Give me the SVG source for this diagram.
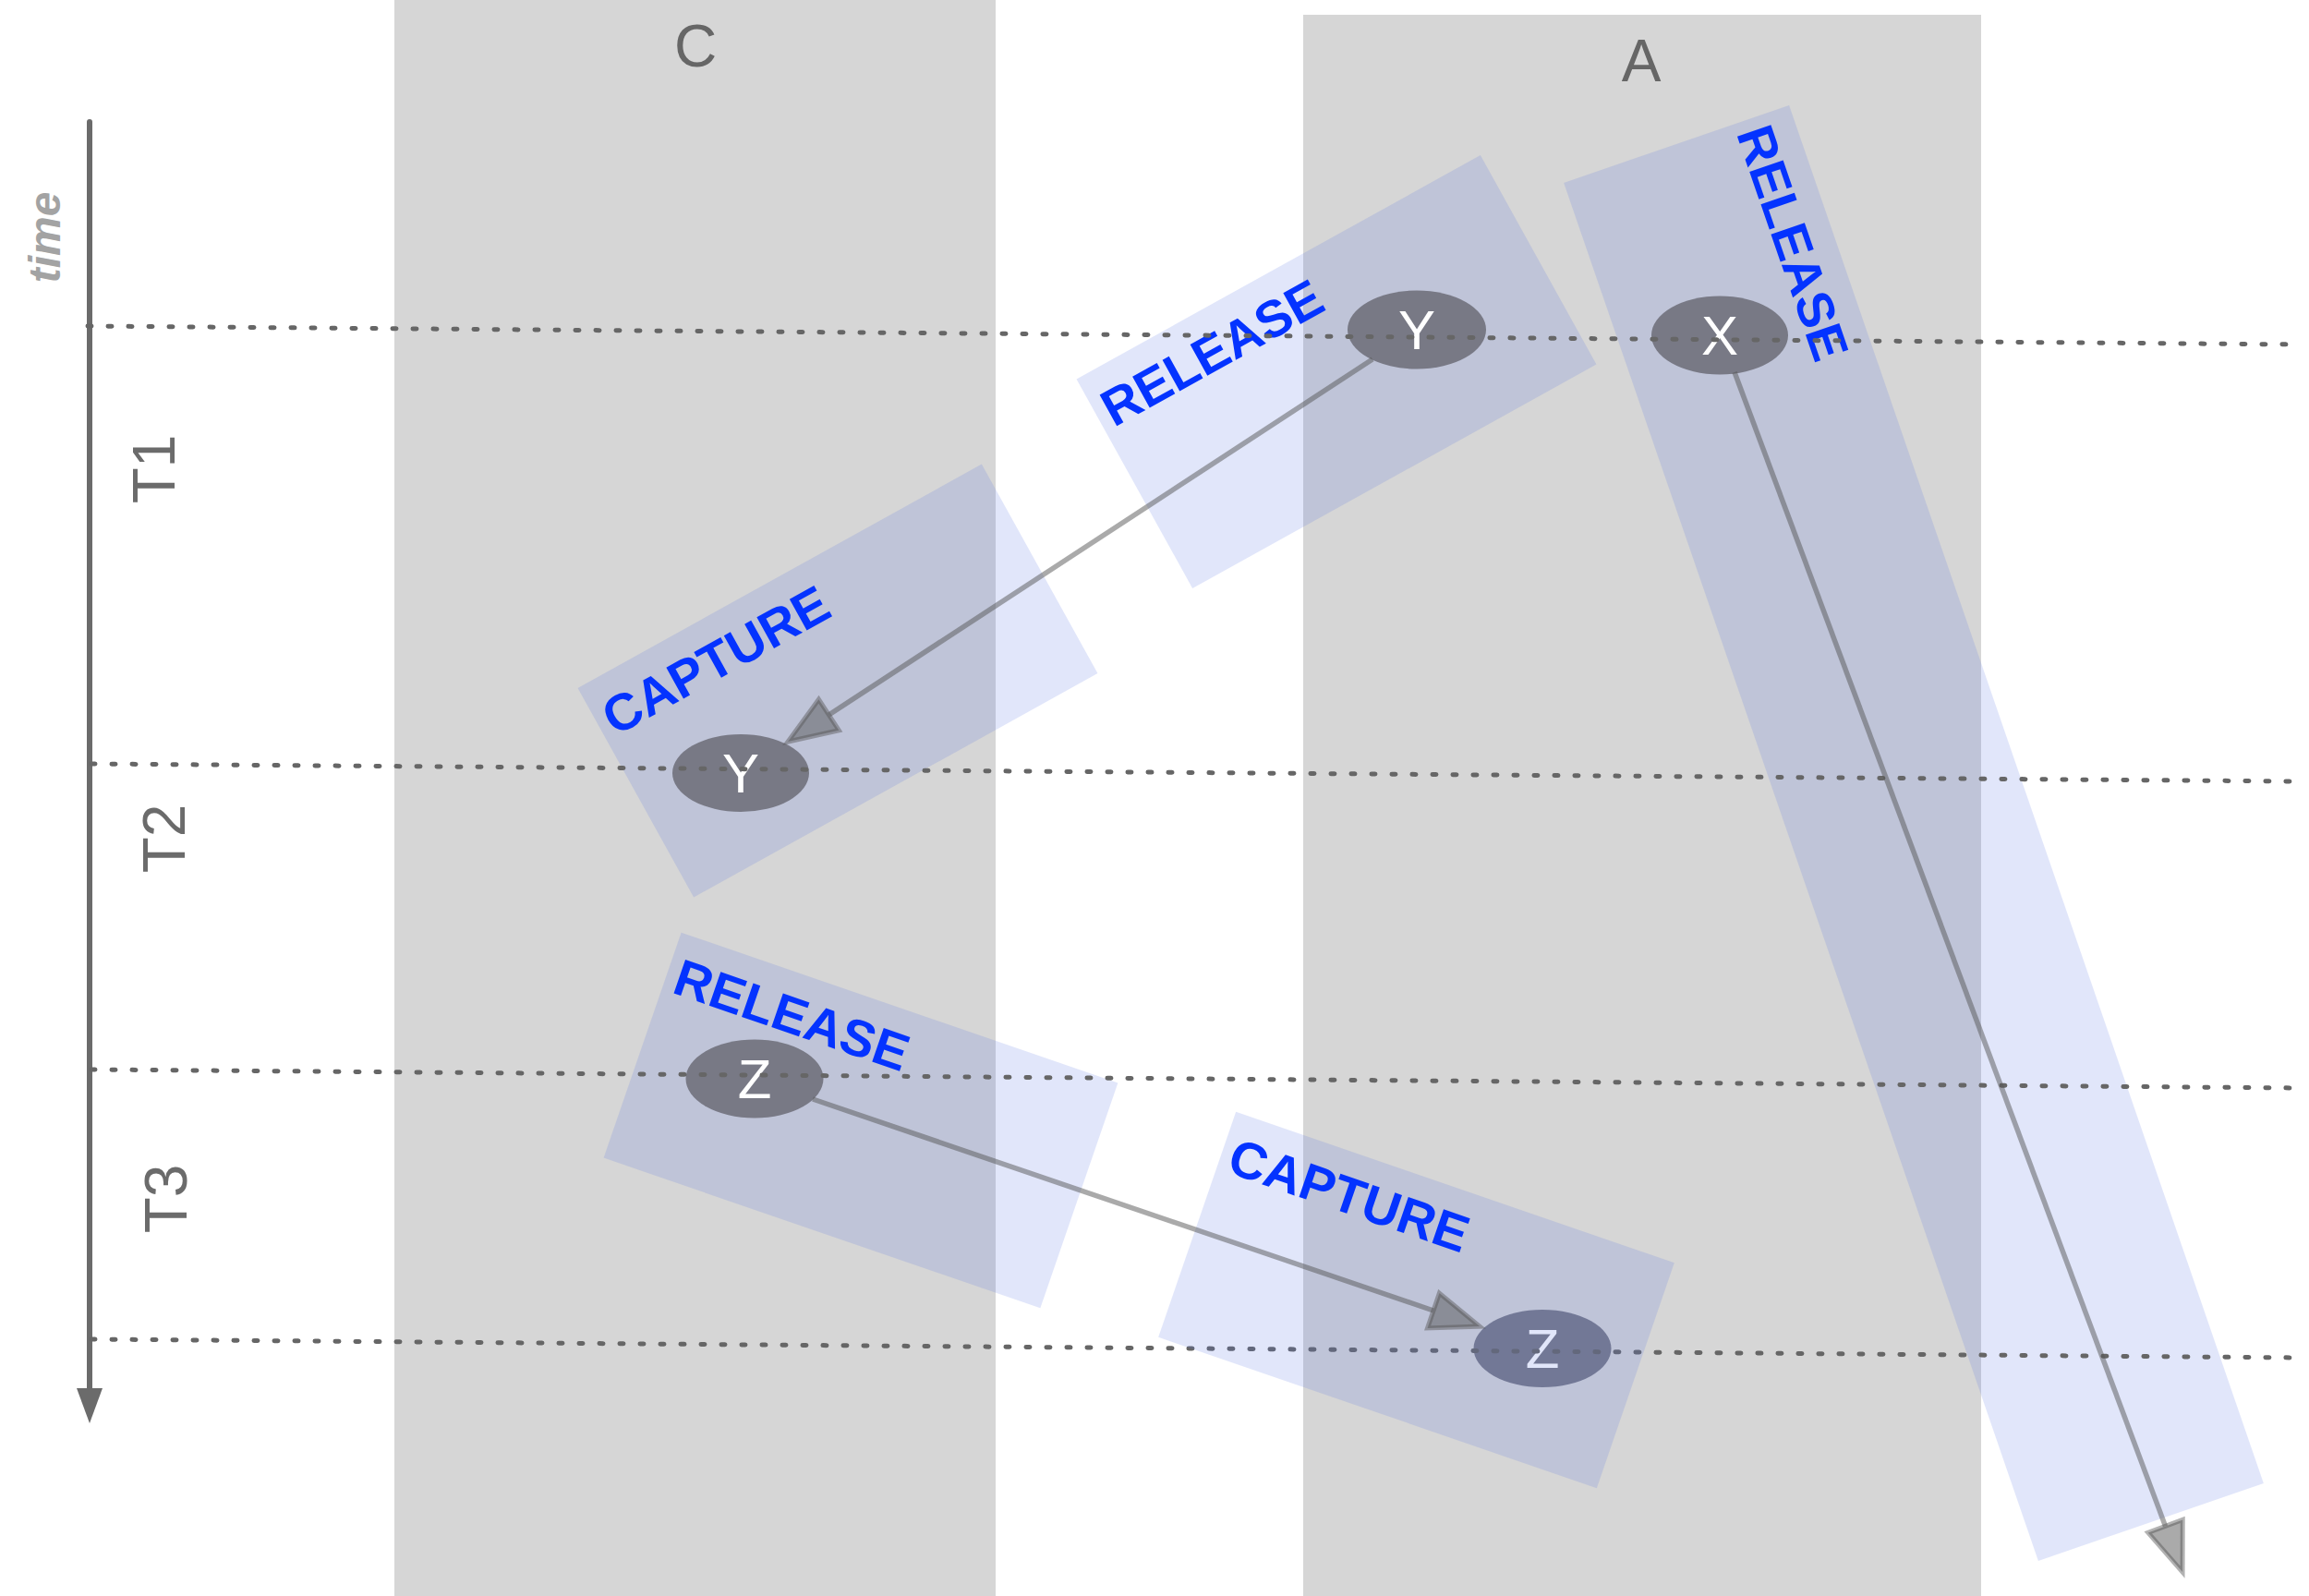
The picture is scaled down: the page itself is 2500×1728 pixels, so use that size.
<svg xmlns="http://www.w3.org/2000/svg" width="2500" height="1728" viewBox="0 0 2500 1728">
<defs>
<style>
.lane{fill:#d6d6d6}
.lanelabel{font-family:"Liberation Sans",Arial,sans-serif;font-size:64px;fill:#666;text-anchor:middle}
.tlabel{font-family:"Liberation Sans",Arial,sans-serif;font-size:64px;fill:#6b6b6b;text-anchor:middle}
.time{font-family:"Liberation Sans",Arial,sans-serif;font-size:48px;font-weight:bold;font-style:italic;fill:#a3a3a3;text-anchor:middle}
.box{fill:rgb(88,116,227);fill-opacity:.18}
.boxlabel{font-family:"Liberation Sans",Arial,sans-serif;font-size:56px;font-weight:bold;fill:#0433ff}
.node{fill:#787985}
.nodelabel{font-family:"Liberation Sans",Arial,sans-serif;font-size:60px;fill:#fff;text-anchor:middle}
.dotted{stroke:#666;stroke-width:5;stroke-dasharray:4 18;stroke-linecap:round;fill:none}
.conn{stroke:#555;stroke-opacity:.5;stroke-width:5.5;fill:none}
</style>
<marker id="ah" markerUnits="userSpaceOnUse" viewBox="-5 -26 64 52" markerWidth="64" markerHeight="52" refX="0" refY="0" orient="auto" overflow="visible">
<path d="M0,-20 L53,0 L0,20 Z" fill="#555" fill-opacity=".5" stroke="#555" stroke-opacity=".45" stroke-width="5"/>
</marker>
</defs>

<g id="lanes">
<g id="lane-C">
<rect class="lane" x="427" y="0" width="651" height="1728"/>
<text class="lanelabel" x="753" y="72">C</text>
</g>
<g id="lane-A">
<rect class="lane" x="1411" y="16" width="734" height="1712"/>
<text class="lanelabel" x="1777" y="88">A</text>
</g>
</g>

<g id="time-axis">
<line x1="97" y1="132" x2="97" y2="1506" stroke="#6b6b6b" stroke-width="6" stroke-linecap="round"/>
<polygon points="83,1503 111,1503 97,1541" fill="#6b6b6b"/>
<text class="time" transform="translate(65,257) rotate(-90)">time</text>
<text class="tlabel" transform="translate(189,508) rotate(-90)">T1</text>
<text class="tlabel" transform="translate(200,908) rotate(-90)">T2</text>
<text class="tlabel" transform="translate(202,1298) rotate(-90)">T3</text>
</g>

<g id="box-release-y" transform="translate(1447,402.5) rotate(-29)">
<rect class="box" x="-250" y="-129.5" width="500" height="259"/>
<text class="boxlabel" x="-240" y="-64">RELEASE</text>
</g>
<g id="box-release-x" transform="translate(2072,902) rotate(71)">
<rect class="box" x="-789" y="-129" width="1578" height="258"/>
<text class="boxlabel" x="-779" y="-65">RELEASE</text>
</g>
<g id="box-capture-y" transform="translate(907,737) rotate(-29)">
<rect class="box" x="-250" y="-129.5" width="500" height="259"/>
<text class="boxlabel" x="-240" y="-64">CAPTURE</text>
</g>
<g id="box-release-z" transform="translate(932,1213) rotate(19)">
<rect class="box" x="-250" y="-129" width="500" height="258"/>
<text class="boxlabel" x="-240" y="-64">RELEASE</text>
</g>

<g id="node-Y-T1">
<ellipse class="node" cx="1534" cy="357" rx="75" ry="42.5"/>
<text class="nodelabel" x="1534" y="378">Y</text>
</g>
<g id="node-X-T1">
<ellipse class="node" cx="1862" cy="363" rx="74" ry="42.5"/>
<text class="nodelabel" x="1862" y="384">X</text>
</g>
<g id="node-Y-T2">
<ellipse class="node" cx="802" cy="837" rx="74" ry="42"/>
<text class="nodelabel" x="802" y="858">Y</text>
</g>
<g id="node-Z-T3">
<ellipse class="node" cx="817" cy="1168" rx="74.5" ry="42.5"/>
<text class="nodelabel" x="817" y="1189">Z</text>
</g>
<g id="node-Z-T4">
<ellipse class="node" cx="1670" cy="1460" rx="74.5" ry="42"/>
<text class="nodelabel" x="1670" y="1481">Z</text>
</g>

<g id="time-lines">
<line class="dotted" x1="95" y1="353" x2="2490" y2="373"/>
<line class="dotted" x1="99" y1="827" x2="2490" y2="846"/>
<line class="dotted" x1="99" y1="1158" x2="2490" y2="1178"/>
<line class="dotted" x1="99" y1="1450" x2="2490" y2="1470"/>
</g>

<g id="box-capture-z" transform="translate(1533.5,1407.5) rotate(19)">
<rect class="box" x="-251" y="-129" width="502" height="258"/>
<text class="boxlabel" x="-241" y="-64">CAPTURE</text>
</g>

<g id="connectors">
<line class="conn" x1="1486" y1="389" x2="897.4" y2="774" marker-end="url(#ah)"/>
<line class="conn" x1="1878" y1="403" x2="2344.5" y2="1652.4" marker-end="url(#ah)"/>
<line class="conn" x1="880" y1="1190" x2="1552" y2="1419" marker-end="url(#ah)"/>
</g>
</svg>
